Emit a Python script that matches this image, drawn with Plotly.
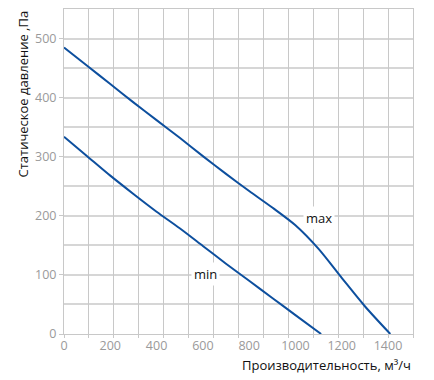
import plotly.graph_objects as go

max_x = [0, 100, 200, 300, 400, 500, 600, 700, 800, 900, 1000, 1100, 1200, 1300, 1410]
max_y = [485, 454, 423, 392, 362, 332, 301, 271, 242, 214, 184, 144, 95, 47, 0]
min_x = [0, 100, 200, 300, 400, 500, 600, 700, 800, 900, 1000, 1111]
min_y = [334, 301, 268, 237, 207, 179, 149, 119, 90, 61, 32, 0]
x_ticks = [0, 200, 400, 600, 800, 1000, 1200, 1400]
y_ticks = [0, 100, 200, 300, 400, 500]

FONT = "Open Sans"
BLUE = "#0d4f9e"
W, H = 434, 380
L, R, T, B = 64, 21, 9, 46

fig = go.Figure()
fig.add_trace(go.Scatter(x=max_x, y=max_y, mode="lines", line=dict(color=BLUE, width=2, shape="spline", smoothing=0.8), showlegend=False))
fig.add_trace(go.Scatter(x=min_x, y=min_y, mode="lines", line=dict(color=BLUE, width=2, shape="spline", smoothing=0.8), showlegend=False))
# helper trace on xaxis2 to draw vertical grid
fig.add_trace(go.Scatter(x=[0, 14], y=[0, 0], xaxis="x2", mode="lines", line=dict(width=0), hoverinfo="skip", showlegend=False, opacity=0))

fig.add_annotation(x=1103, y=196, text="max", showarrow=False, bgcolor="white",
                   font=dict(family=FONT, size=13, color="#111"), borderpad=2)
fig.add_annotation(x=612, y=102, text="min", showarrow=False, bgcolor="white",
                   font=dict(family=FONT, size=13, color="#111"), borderpad=2)

fig.add_annotation(xref="paper", yref="paper", x=1.0, y=-0.062, xanchor="right", yanchor="top",
                   text="Производительность, м³/ч", showarrow=False,
                   font=dict(family=FONT, size=13, color="#111"))
fig.add_annotation(xref="paper", yref="paper", x=-(L - 22) / (W - L - R), y=1.0, xanchor="center", yanchor="top",
                   text="Статическое давление ,Па", showarrow=False, textangle=-90,
                   font=dict(family=FONT, size=13, color="#111"))

fig.update_layout(
    width=W, height=H,
    margin=dict(l=L, r=R, t=T, b=B),
    paper_bgcolor="white", plot_bgcolor="white",
    font=dict(family=FONT),
    xaxis=dict(range=[0, 1508], tickvals=x_ticks, showgrid=False, zeroline=False,
               tickfont=dict(size=12.5, color="#9a9a9a"), ticks="", showline=True,
               linecolor="#c8c8c8", linewidth=1, mirror=True),
    xaxis2=dict(range=[0, 14], overlaying="x", side="bottom", dtick=1, showgrid=True,
                gridcolor="#c8c8c8", gridwidth=1, showticklabels=False, zeroline=False,
                ticks="outside", ticklen=3, tickcolor="#c8c8c8"),
    yaxis=dict(range=[0, 550], tickvals=y_ticks, showgrid=True, gridcolor="#d6d6d6", gridwidth=1.5,
               minor=dict(dtick=50, showgrid=True, gridcolor="#d6d6d6", gridwidth=1.5),
               zeroline=False, tickfont=dict(size=12.5, color="#9a9a9a"),
               ticks="outside", ticklen=4, tickcolor="#c8c8c8", showline=True,
               linecolor="#c8c8c8", linewidth=1, mirror=True),
)

fig.write_html("out.html")
